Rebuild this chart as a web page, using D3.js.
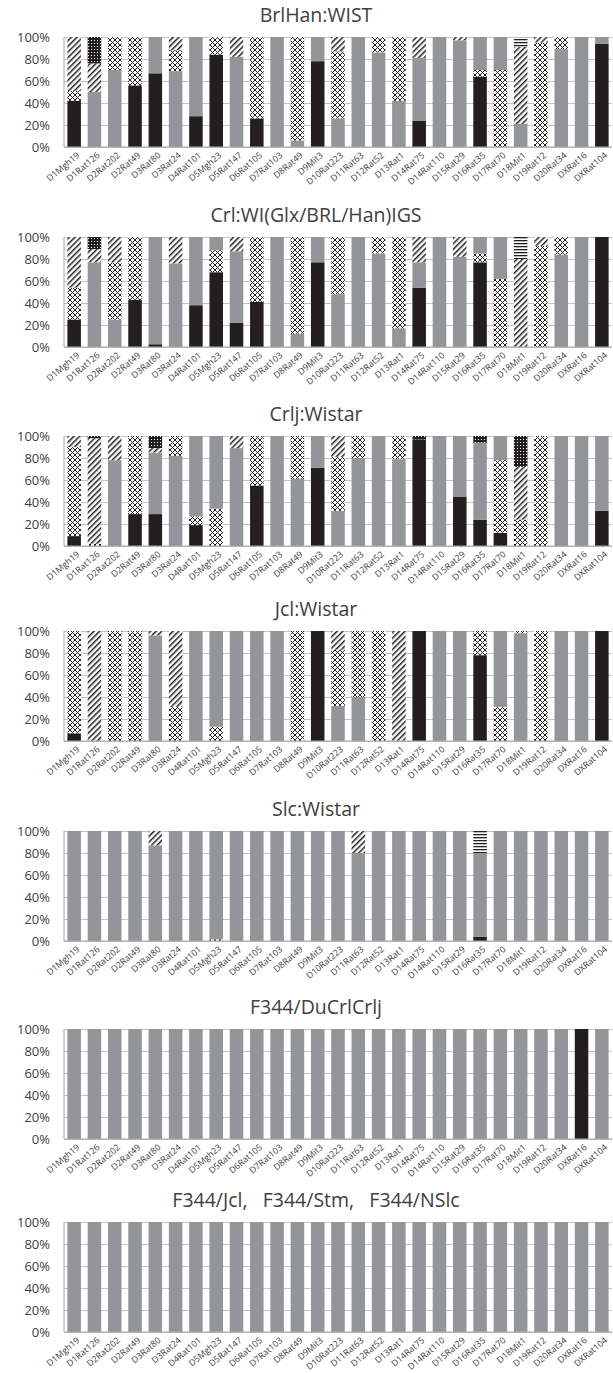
<!DOCTYPE html>
<html>
<head>
<meta charset="utf-8">
<script src="https://cdn.jsdelivr.net/npm/d3@7"></script>
<style>
  body { margin: 0; background: #fff; }
  text { font-family: "Open Sans", "Liberation Sans", sans-serif; }
</style>
</head>
<body>
<script>
      // markers on the x axis (same for every panel)
      var markers = ['D1Mgh19','D1Rat126','D2Rat202','D2Rat49','D3Rat80','D3Rat24','D4Rat101',
                     'D5Mgh23','D5Rat147','D6Rat105','D7Rat103','D8Rat49','D9Mit3','D10Rat223',
                     'D11Rat63','D12Rat52','D13Rat1','D14Rat75','D14Rat110','D15Rat29','D16Rat35',
                     'D17Rat70','D18Mit1','D19Rat12','D20Rat34','DXRat16','DXRat104'];

      var titles = ['BrlHan:WIST', 'Crl:WI(Glx/BRL/Han)IGS', 'Crlj:Wistar', 'Jcl:Wistar',
                    'Slc:Wistar', 'F344/DuCrlCrlj', 'F344/Jcl,   F344/Stm,   F344/NSlc'];

      var yTicks = [0, 20, 40, 60, 80, 100];

      // allele segments, bottom to top, in percent
      // K = black, G = grey, X = diamond hatch, D = diagonal, S = dense dots, H = horizontal
      var brlHan = ['K42 X9 D49','G50 D26 S24','G70 X30','K56 X44','K67 G33','G69 X19 D12','K28 G72',
                    'K84 X16','G82 D18','K26 X74','G100','G6 X94','K78 G22','G26 X61 D13',
                    'G100','G86 X14','G42 X58','K24 G57 D19','G100','G97 D3','K64 X6 G30',
                    'X70 G30','G21 D70 H9','X95 D5','G89 X11','G100','K94 G6'];

      var crlWI = ['K25 X29 D46','G77 D12 S11','G25 X52 D23','K43 X57','K2.5 G97.5','G76 D24','K38 G62',
                   'K68 X20 G12','K22 G65 D13','K41 X59','G100','G12 X88','K77 G23','G48 X52',
                   'G100','G85 X15','G17 X83','K54 G23 D23','G100','G82 D18','K77 X8 G15',
                   'X62 G38','D80 H20','X92 D8','G84 X16','G100','K100'];

      var crljWistar = ['K9 X81 D10','X2 D96 S2','G78 D22','K29 X71','K29 G56 D4 S11','G82 X18','K19 X8 G73',
                        'X34 G66','G89 D11','K55 X45','G100','G61 X39','K71 G29','G32 X49 D19',
                        'G80 X20','G100','G79 X21','K97 S3','G100','K45 G55','K24 G70 S6',
                        'K12 X66 G22','X24 D48 S28','X100','G100','G100','K32 G68'];

      var jclWistar = ['K7 X93','D100','X100','X100','G96 D4','X31 D69','G100',
                       'X13 G87','G100','G100','G100','X100','K100','G32 X51 D17',
                       'G40 X60','X100','D100','K100','G100','G100','K78 X22',
                       'X31 G69','G98 X2','X100','G100','G100','K100'];

      var slcWistar = ['G100','G100','G100','G100','G87 D13','G100','G100',
                       'X1.5 G98.5','G100','G100','G100','G100','G100','G100',
                       'G80 D20','G100','G100','G100','G100','G100','K4 G76 H20',
                       'G100','G100','G100','G100','G100','G100'];

      var f344Du = ['G100','G100','G100','G100','G100','G100','G100',
                    'G100','G100','G100','G100','G100','G100','G100',
                    'G100','G100','G100','G100','G100','G100','G100',
                    'G100','G100','G100','G100','K100','G100'];

      var f344Other = ['G100','G100','G100','G100','G100','G100','G100',
                       'G100','G100','G100','G100','G100','G100','G100',
                       'G100','G100','G100','G100','G100','G100','G100',
                       'G100','G100','G100','G100','G100','G100'];

      var panelData = [brlHan, crlWI, crljWistar, jclWistar, slcWistar, f344Du, f344Other];

      // layout
      var width = 613, height = 1373;
      var margin = { left: 64, right: 1 };
      var panelTops = [37, 237, 436, 631, 831, 1029, 1222];
      var plotH = 110;

      var fills = { K: '#231f20', G: '#939598', X: 'url(#pX)', D: 'url(#pD)', S: 'url(#pS)', H: 'url(#pH)' };

      var svg = d3.select('body').append('svg')
                  .attr('width', width)
                  .attr('height', height);

      // patterns
      var defs = svg.append('defs');
      var pX = defs.append('pattern').attr('id','pX').attr('patternUnits','userSpaceOnUse')
                   .attr('width',5).attr('height',5);
      pX.append('rect').attr('width',5).attr('height',5).attr('fill','#fff');
      pX.append('path').attr('d','M0,0L5,5M5,0L0,5').attr('stroke','#231f20').attr('stroke-width',1);

      var pD = defs.append('pattern').attr('id','pD').attr('patternUnits','userSpaceOnUse')
                   .attr('width',4).attr('height',4).attr('patternTransform','rotate(45)');
      pD.append('rect').attr('width',4).attr('height',4).attr('fill','#fff');
      pD.append('rect').attr('width',1.5).attr('height',4).attr('fill','#231f20');

      var pS = defs.append('pattern').attr('id','pS').attr('patternUnits','userSpaceOnUse')
                   .attr('width',3).attr('height',3);
      pS.append('rect').attr('width',3).attr('height',3).attr('fill','#231f20');
      pS.append('rect').attr('x',1).attr('y',1).attr('width',1).attr('height',1).attr('fill','#fff');

      var pH = defs.append('pattern').attr('id','pH').attr('patternUnits','userSpaceOnUse')
                   .attr('width',3).attr('height',3);
      pH.append('rect').attr('width',3).attr('height',3).attr('fill','#fff');
      pH.append('rect').attr('width',3).attr('height',1.3).attr('fill','#231f20');

      function parseBar(str) {
        var segs = [];
        var acc = 0;
        str.split(' ').forEach(function(tok) {
          var v = +tok.slice(1);
          segs.push({ k: tok[0], y0: acc, y1: acc + v });
          acc += v;
        });
        return segs;
      }

      var xScale = d3.scaleBand()
                     .domain(markers)
                     .range([margin.left, width - margin.right])
                     .paddingInner(1/3)
                     .paddingOuter(1/6);

      panelData.forEach(function(data, i) {
        var top = panelTops[i];
        var yScale = d3.scaleLinear().domain([0, 100]).range([top + plotH, top]);
        var g = svg.append('g');

        // title
        g.append('text')
         .attr('x', 316)
         .attr('y', top - 15)
         .attr('text-anchor', 'middle')
         .attr('font-size', 19.5)
         .attr('fill', '#404040')
         .style('white-space', 'pre')
         .text(titles[i]);

        // grid + y labels
        var yAxis = d3.axisLeft(yScale)
                      .tickValues(yTicks)
                      .tickSize(-(width - margin.right - margin.left))
                      .tickPadding(14)
                      .tickFormat(function(d) { return d + '%'; });
        var ya = g.append('g').attr('transform', 'translate(' + margin.left + ',0)').call(yAxis);
        ya.select('.domain').remove();
        ya.selectAll('line').attr('stroke', '#c4c4c4').attr('stroke-width', 1);
        ya.selectAll('text').attr('font-size', 13).attr('fill', '#404040')
          .attr('font-family', '"Open Sans", sans-serif');

        // bars
        var bars = g.selectAll('.bar')
                    .data(data)
                    .enter()
                    .append('g')
                    .attr('class', 'bar');
        bars.selectAll('rect')
            .data(function(d, j) { return parseBar(d).map(function(s) { s.m = markers[j]; return s; }); })
            .enter()
            .append('rect')
            .attr('x', function(s) { return xScale(s.m); })
            .attr('width', xScale.bandwidth())
            .attr('y', function(s) { return yScale(s.y1); })
            .attr('height', function(s) { return yScale(s.y0) - yScale(s.y1); })
            .attr('fill', function(s) { return fills[s.k]; });

        // axis lines
        g.append('line')
         .attr('x1', margin.left).attr('x2', margin.left)
         .attr('y1', yScale(0)).attr('y2', yScale(100))
         .attr('stroke', '#a6a6a6');
        g.append('line')
         .attr('x1', margin.left).attr('x2', width - margin.right)
         .attr('y1', yScale(0)).attr('y2', yScale(0))
         .attr('stroke', '#a6a6a6');

        // x labels
        g.selectAll('.xl')
         .data(markers)
         .enter()
         .append('text')
         .attr('class', 'xl')
         .attr('text-anchor', 'end')
         .attr('font-size', 8.8)
         .attr('fill', '#404040')
         .attr('dy', '0.35em')
         .attr('transform', function(d) {
           return 'translate(' + (xScale(d) + xScale.bandwidth() / 2 + 4) + ',' + (yScale(0) + 7) + ') rotate(-40)';
         })
         .text(function(d) { return d; });
      });
</script>
</body>
</html>
